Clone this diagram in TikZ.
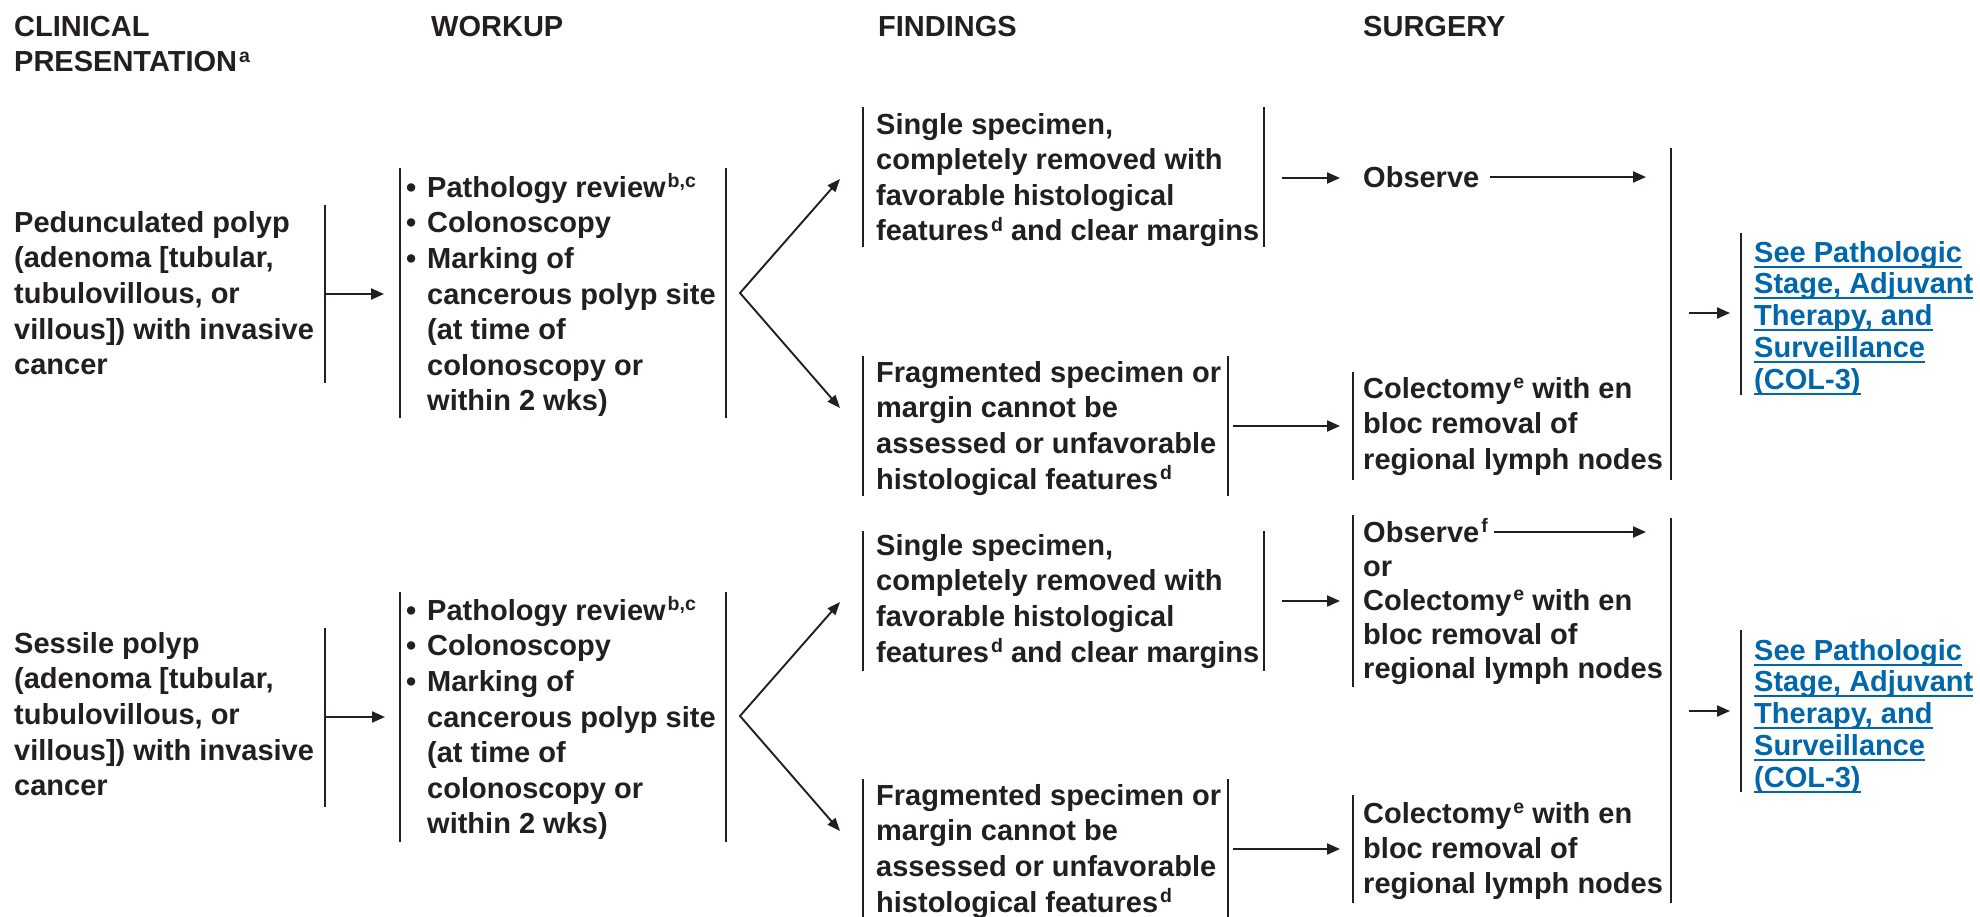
\documentclass[tikz,border=0pt]{standalone}
\usepackage{fontspec}
\setmainfont{Liberation Sans}
\usetikzlibrary{arrows.meta}
\definecolor{ink}{RGB}{35,31,32}
\definecolor{linkblue}{RGB}{0,103,171}
\newcommand\bodyfont{\fontsize{29}{35.6}\selectfont\bfseries\lineskiplimit=-30pt\relax}
\newcommand\tightfont{\fontsize{29}{34}\selectfont\bfseries\lineskiplimit=-30pt\relax}
\newcommand\colfont{\fontsize{29}{35}\selectfont\bfseries\lineskiplimit=-30pt\relax}
\newcommand\linkfont{\fontsize{29}{31.75}\selectfont\bfseries\lineskiplimit=-30pt\relax}
\newcommand\supx[1]{\kern2pt\raisebox{9.5pt}{\fontsize{19.5}{19.5}\selectfont #1}}
\newcommand\fst{\rule{0pt}{25pt}}
\newcommand\bul{\makebox[21pt][l]{\textbullet}}
\newcommand\ind{\hspace*{21pt}}
\newcommand\ulk[1]{\setbox0\hbox{#1}\rlap{\rule[-5.3pt]{\wd0}{1.9pt}}\box0}
\tikzset{
  txt/.style={anchor=north west, inner sep=0pt, align=left, font=\bodyfont, text=ink},
  lnk/.style={anchor=north west, inner sep=0pt, align=left, font=\linkfont, text=linkblue},
  vbar/.style={draw=ink, line width=2.3pt},
  arr/.style={draw=ink, line width=2.1pt, -{Triangle[length=13pt,width=11pt]}},
  fork/.style={draw=ink, line width=1.9pt, {Triangle[length=13pt,width=10pt]}-{Triangle[length=13pt,width=10pt]}},
}
\begin{document}
\begin{tikzpicture}[x=1pt,y=-1pt]
\useasboundingbox[fill=white] (0,0) rectangle (1980,917);

% headers
\node[txt] (hclin) at (14,11) {\fst CLINICAL\\PRESENTATION\supx{a}};
\node[txt] (hwork) at (431,11) {\fst WORKUP};
\node[txt] (hfind) at (878,11) {\fst FINDINGS};
\node[txt] (hsurg) at (1363,11) {\fst SURGERY};

% ===== top half =====
\node[txt] (clin1) at (14,207) {\fst Pedunculated polyp\\(adenoma [tubular,\\tubulovillous, or\\villous]) with invasive\\cancer};
\node[txt] (work1) at (406,172) {\fst\bul Pathology review\supx{b,c}\\\bul Colonoscopy\\\bul Marking of\\\ind cancerous polyp site\\\ind (at time of\\\ind colonoscopy or\\\ind within 2 wks)};
\node[txt] (find1a) at (876,109) {\fst Single specimen,\\completely removed with\\favorable histological\\features\supx{d} and clear margins};
\node[txt] (find1b) at (876,357) {\fst Fragmented specimen or\\margin cannot be\\assessed or unfavorable\\histological features\supx{d}};
\node[txt] (obs1) at (1363,162) {\fst Observe};
\node[txt] (col1) at (1363,373) {\fst Colectomy\supx{e} with en\\bloc removal of\\regional lymph nodes};
\node[lnk] (link1) at (1754,237) {\fst\ulk{See Pathologic}\\\ulk{Stage, Adjuvant}\\\ulk{Therapy, and}\\\ulk{Surveillance}\\\ulk{(COL-3)}};

\coordinate (a1s) at (325,294); \coordinate (a1e) at (384,294);
\coordinate (f1v) at (740,293); \coordinate (f1u) at (840,179); \coordinate (f1d) at (840,408);
\coordinate (a2s) at (1282,178); \coordinate (a2e) at (1340,178);
\coordinate (a3s) at (1490,177); \coordinate (a3e) at (1646,177);
\coordinate (a4s) at (1233,426); \coordinate (a4e) at (1340,426);
\coordinate (a5s) at (1689,313); \coordinate (a5e) at (1730,313);

\draw[vbar] (325,205) -- (325,383);
\draw[arr] (a1s) -- (a1e);
\draw[vbar] (400,168) -- (400,418);
\draw[vbar] (726,168) -- (726,418);
\draw[fork] (f1u) -- (f1v) -- (f1d);
\draw[vbar] (863,107) -- (863,247);
\draw[vbar] (1264,107) -- (1264,247);
\draw[arr] (a2s) -- (a2e);
\draw[arr] (a3s) -- (a3e);
\draw[vbar] (863,356) -- (863,496);
\draw[vbar] (1228,356) -- (1228,496);
\draw[arr] (a4s) -- (a4e);
\draw[vbar] (1353,372) -- (1353,480);
\draw[vbar] (1671,148) -- (1671,480);
\draw[arr] (a5s) -- (a5e);
\draw[vbar] (1741,233) -- (1741,395);

% ===== bottom half =====
\node[txt] (clin2) at (14,628) {\fst Sessile polyp\\(adenoma [tubular,\\tubulovillous, or\\villous]) with invasive\\cancer};
\node[txt] (work2) at (406,595) {\fst\bul Pathology review\supx{b,c}\\\bul Colonoscopy\\\bul Marking of\\\ind cancerous polyp site\\\ind (at time of\\\ind colonoscopy or\\\ind within 2 wks)};
\node[txt] (find2a) at (876,530) {\fst Single specimen,\\completely removed with\\favorable histological\\features\supx{d} and clear margins};
\node[txt] (find2b) at (876,780) {\fst Fragmented specimen or\\margin cannot be\\assessed or unfavorable\\histological features\supx{d}};
\node[txt, font=\tightfont] (obs2) at (1363,517) {\fst Observe\supx{f}\\or\\Colectomy\supx{e} with en\\bloc removal of\\regional lymph nodes};
\node[txt, font=\colfont] (col2) at (1363,798) {\fst Colectomy\supx{e} with en\\bloc removal of\\regional lymph nodes};
\node[lnk] (link2) at (1754,635) {\fst\ulk{See Pathologic}\\\ulk{Stage, Adjuvant}\\\ulk{Therapy, and}\\\ulk{Surveillance}\\\ulk{(COL-3)}};

\coordinate (b1s) at (325,717); \coordinate (b1e) at (385,717);
\coordinate (f2v) at (740,716); \coordinate (f2u) at (840,602); \coordinate (f2d) at (840,831);
\coordinate (b2s) at (1282,601); \coordinate (b2e) at (1340,601);
\coordinate (b3s) at (1494,532); \coordinate (b3e) at (1646,532);
\coordinate (b4s) at (1233,849); \coordinate (b4e) at (1340,849);
\coordinate (b5s) at (1689,711); \coordinate (b5e) at (1730,711);

\draw[vbar] (325,628) -- (325,807);
\draw[arr] (b1s) -- (b1e);
\draw[vbar] (400,592) -- (400,842);
\draw[vbar] (726,592) -- (726,842);
\draw[fork] (f2u) -- (f2v) -- (f2d);
\draw[vbar] (863,531) -- (863,671);
\draw[vbar] (1264,531) -- (1264,671);
\draw[arr] (b2s) -- (b2e);
\draw[vbar] (1353,515) -- (1353,687);
\draw[arr] (b3s) -- (b3e);
\draw[vbar] (863,779) -- (863,917);
\draw[vbar] (1228,779) -- (1228,917);
\draw[arr] (b4s) -- (b4e);
\draw[vbar] (1353,795) -- (1353,903);
\draw[vbar] (1671,518) -- (1671,903);
\draw[arr] (b5s) -- (b5e);
\draw[vbar] (1741,630) -- (1741,792);
\end{tikzpicture}
\end{document}
